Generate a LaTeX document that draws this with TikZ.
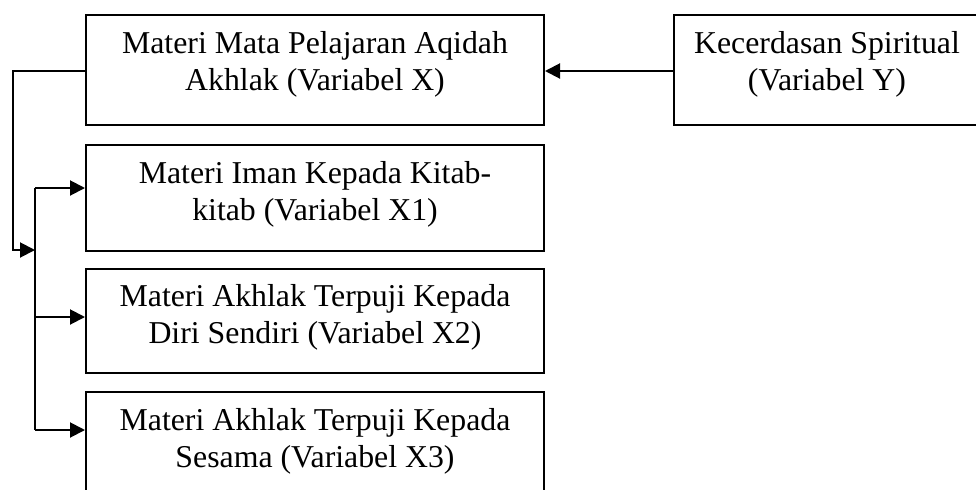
\documentclass[tikz,border=0pt]{standalone}
\usepackage{fontspec}
\setmainfont{Liberation Serif}
\usetikzlibrary{arrows.meta,calc}
\begin{document}
\begin{tikzpicture}[x=0.5pt,y=-0.5pt,
  frame/.style={draw,line width=1pt,inner sep=0pt,anchor=north west},
  label/.style={align=center,inner sep=0pt,
    font=\fontsize{15.9}{18.5}\selectfont},
  conn/.style={line width=1pt},
  arr/.style={conn,-{Triangle[length=7.5pt,width=7.5pt]}}]
\useasboundingbox (0,0) rectangle (976,489);
\node[frame,minimum width=229pt,minimum height=55pt] (X) at (85,14) {};
\node[frame,minimum width=153pt,minimum height=55pt] (Y) at (673,14) {};
\node[frame,minimum width=229pt,minimum height=53pt] (X1) at (85,144) {};
\node[frame,minimum width=229pt,minimum height=52pt] (X2) at (85,268) {};
\node[frame,minimum width=229pt,minimum height=53pt] (X3) at (85,391) {};
\node[label] (Xt) at ($(X.center)+(0,-6)$) {Materi Mata Pelajaran Aqidah\\Akhlak (Variabel X)};
\node[label] (Yt) at ($(Y.center)+(0,-6)$) {Kecerdasan Spiritual\\(Variabel Y)};
\node[label] (X1t) at ($(X1.center)+(0,-4)$) {Materi Iman Kepada Kitab-\\kitab (Variabel X1)};
\node[label] (X2t) at ($(X2.center)+(0,-4)$) {Materi Akhlak Terpuji Kepada\\Diri Sendiri (Variabel X2)};
\node[label] (X3t) at ($(X3.center)+(0,-4)$) {Materi Akhlak Terpuji Kepada\\Sesama (Variabel X3)};
\coordinate (Ttop) at (35,188);
\coordinate (T2) at (35,317);
\coordinate (Tbot) at (35,430);
\coordinate (Tin) at (35,250);
\coordinate (Lx) at (13,71);
\draw[conn] (Ttop) -- (Tbot);
\draw[arr] (X.west |- Lx) -- (Lx) |- (Tin);
\draw[arr] (Ttop) -- (Ttop -| X1.west);
\draw[arr] (T2) -- (T2 -| X2.west);
\draw[arr] (Tbot) -- (Tbot -| X3.west);
\draw[arr] (Y.west |- Lx) -- (X.east |- Lx);
\end{tikzpicture}
\end{document}
